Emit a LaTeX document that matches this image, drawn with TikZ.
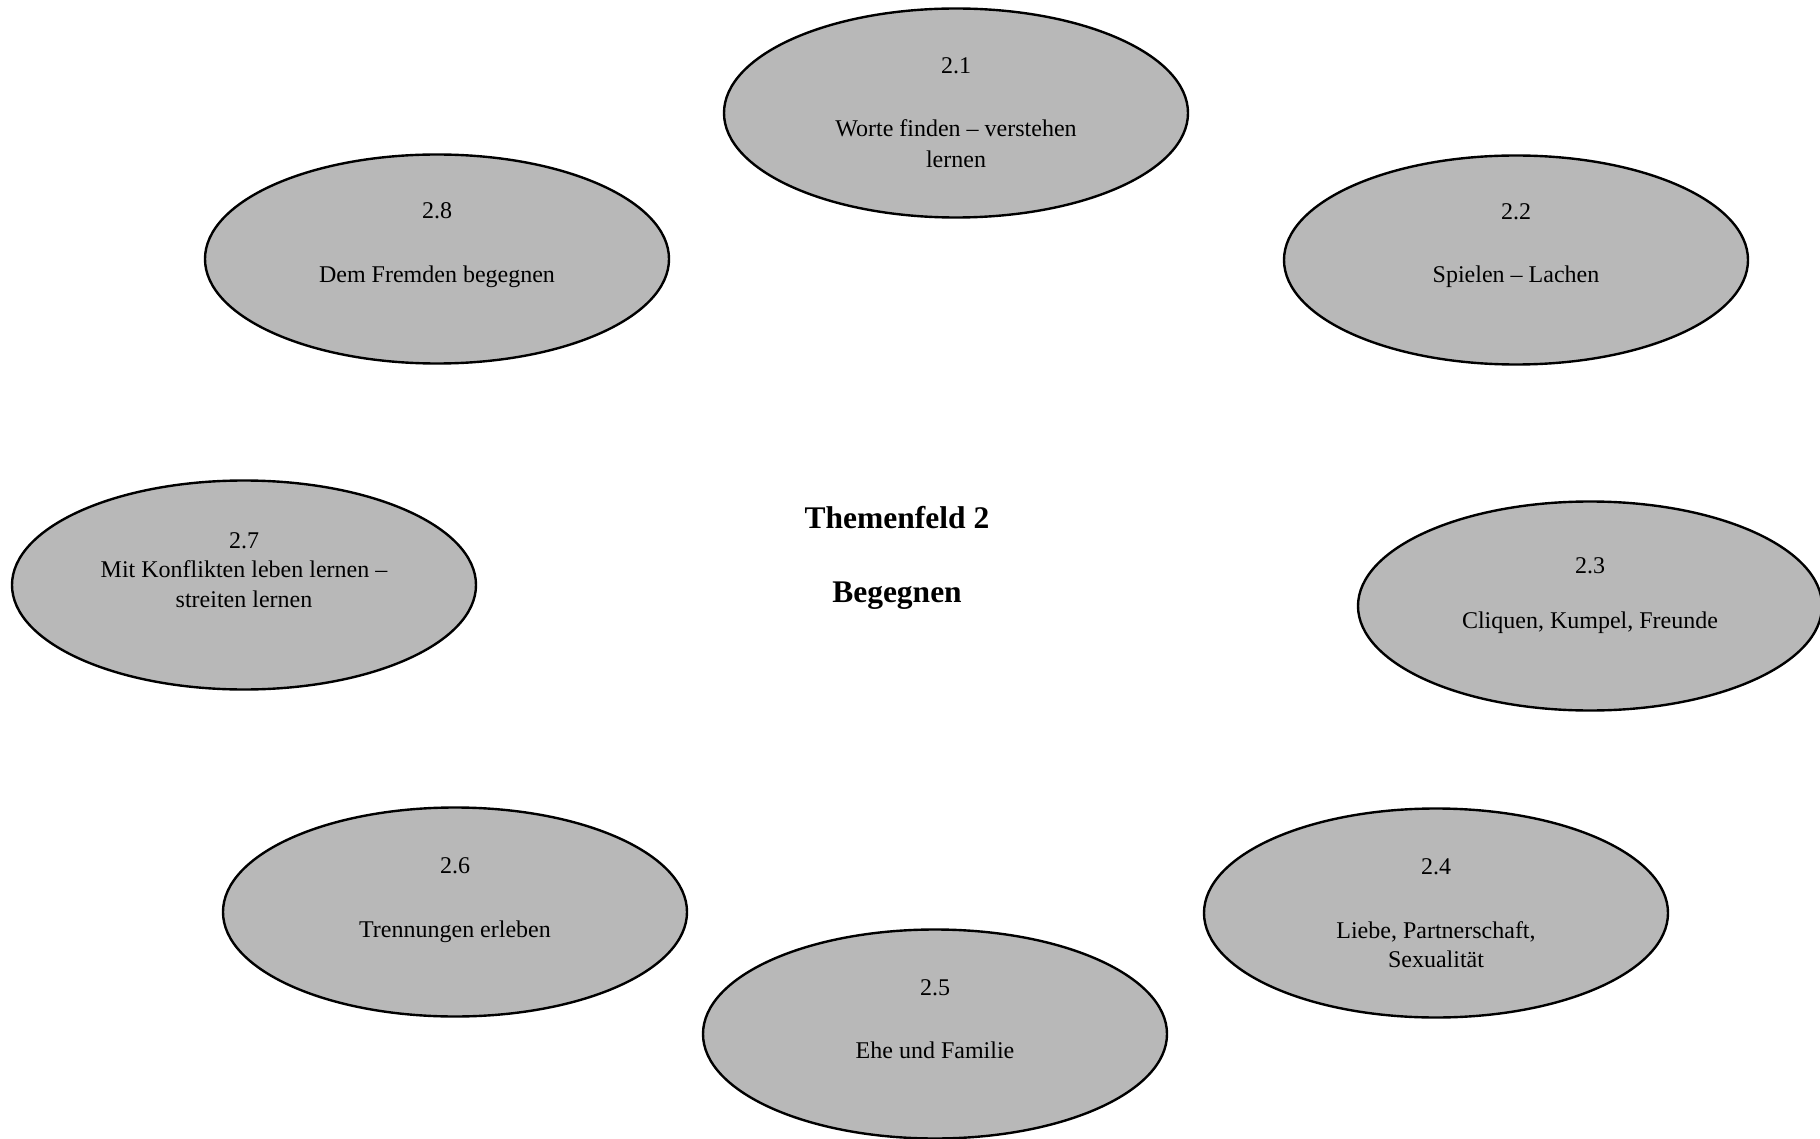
\documentclass[tikz,border=0pt]{standalone}
\usepackage{fontspec}
\setmainfont{Liberation Serif}
\usepackage{tikz}
\usetikzlibrary{shapes.geometric}

\begin{document}
\begin{tikzpicture}[x=1pt,y=-1pt,
  theme/.style={ellipse, draw=black, line width=2.4pt, fill=black!28,
    minimum width=464pt, minimum height=209pt, inner sep=0pt},
  lbl/.style={anchor=base, inner sep=0pt,
    font=\fontsize{24}{30}\selectfont},
  ttl/.style={anchor=base, inner sep=0pt,
    font=\fontsize{31.5}{36}\selectfont\bfseries}]
\useasboundingbox (0,0) rectangle (1820,1139);
\node[theme] (e21) at (956,113) {};
\node[theme] (e22) at (1516,260) {};
\node[theme] (e23) at (1590,606) {};
\node[theme] (e24) at (1436,913) {};
\node[theme] (e25) at (935,1034) {};
\node[theme] (e26) at (455,912) {};
\node[theme] (e27) at (244,585) {};
\node[theme] (e28) at (437,259) {};
\node[lbl] (n21) at (956,74) {2.1};
\node[lbl] (t21a) at (956,137) {Worte finden -- verstehen};
\node[lbl] (t21b) at (956,168) {lernen};
\node[lbl] (n22) at (1516,220) {2.2};
\node[lbl] (t22) at (1516,283) {Spielen -- Lachen};
\node[lbl] (n23) at (1590,573) {2.3};
\node[lbl] (t23) at (1590,628) {Cliquen, Kumpel, Freunde};
\node[lbl] (n24) at (1436,874) {2.4};
\node[lbl] (t24a) at (1436,938) {Liebe, Partnerschaft,};
\node[lbl] (t24b) at (1436,967) {Sexualität};
\node[lbl] (n25) at (935,995) {2.5};
\node[lbl] (t25) at (935,1058) {Ehe und Familie};
\node[lbl] (n26) at (455,873) {2.6};
\node[lbl] (t26) at (455,937) {Trennungen erleben};
\node[lbl] (n27) at (244,548) {2.7};
\node[lbl] (t27a) at (244,577) {Mit Konflikten leben lernen --};
\node[lbl] (t27b) at (244,607) {streiten lernen};
\node[lbl] (n28) at (437,219) {2.8};
\node[lbl] (t28) at (437,283) {Dem Fremden begegnen};
\node[ttl] (title) at (897,528) {Themenfeld 2};
\node[ttl] (topic) at (897,602) {Begegnen};
\end{tikzpicture}
\end{document}
